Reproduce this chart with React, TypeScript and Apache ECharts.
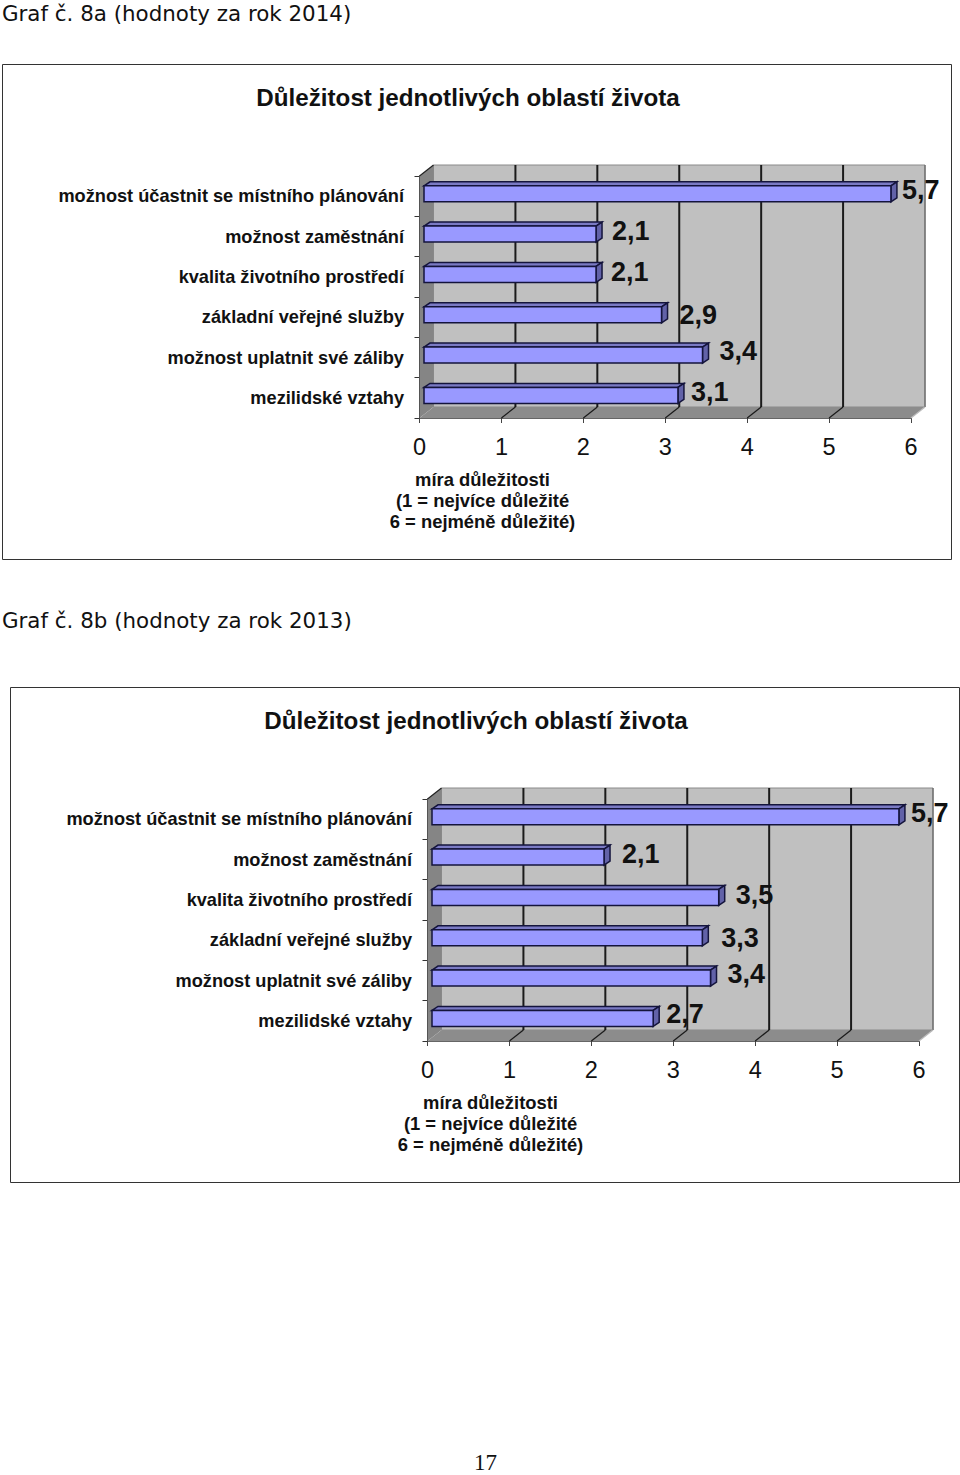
import React, { useEffect, useRef } from "react";
import * as echarts from "echarts";

const categories = [
  "možnost účastnit se místního plánování",
  "možnost zaměstnání",
  "kvalita životního prostředí",
  "základní veřejné služby",
  "možnost uplatnit své záliby",
  "mezilidské vztahy",
];
const values2014 = [5.7, 2.1, 2.1, 2.9, 3.4, 3.1];
const values2013 = [5.7, 2.1, 3.5, 3.3, 3.4, 2.7];
const xTicks = [0, 1, 2, 3, 4, 5, 6];
const pageTitle2014 = "Graf č. 8a (hodnoty za rok 2014)";
const pageTitle2013 = "Graf č. 8b (hodnoty za rok 2013)";
const chartTitle = "Důležitost jednotlivých oblastí života";
const axisCaption = ["míra důležitosti", "(1 = nejvíce důležité", "6 = nejméně důležité)"];
const pageNumber = "17";

// hand-placed label offsets of the original, relative to the bar end
const labelNudge2014 = [[11, -4], [16, -3], [15, -2.5], [18, 0], [17, -4], [13, -3]];
const labelNudge2013 = [[12, -4], [18, -3], [17, -2.5], [19, 0], [17, -4], [13, -4]];

const SANS = '"Liberation Sans", Arial, sans-serif';
const DX = 14, DY = -11; // wall depth
const BAR_OFF_X = 4.5, BAR_OFF_Y = -2.4, BAR_H = 16, BAR_DX = 6, BAR_DY = -4;

const wallRender = (_: any, api: any) => {
  const band = api.size([0, 1])[1];
  const x0 = api.coord([0, 0])[0];
  const x6 = api.coord([6, 0])[0];
  const top = api.coord([0, 0])[1] - band / 2;
  const bottom = top + band * categories.length;
  const children: any[] = [
    { type: "polygon", shape: { points: [[x0 + DX, top + DY], [x6 + DX, top + DY], [x6 + DX, bottom + DY], [x0 + DX, bottom + DY]] }, style: { fill: "#c0c0c0", stroke: "#8a8a8a", lineWidth: 1 } },
    { type: "polygon", shape: { points: [[x0, top], [x0 + DX, top + DY], [x0 + DX, bottom + DY], [x0, bottom]] }, style: { fill: "#858585" } },
    { type: "polygon", shape: { points: [[x0, bottom], [x0 + DX, bottom + DY], [x6 + DX, bottom + DY], [x6, bottom]] }, style: { fill: "#8c8c8c" } },
    { type: "line", shape: { x1: x0, y1: top, x2: x0 + DX, y2: top + DY }, style: { stroke: "#222", lineWidth: 1.2 } },
  ];
  xTicks.forEach((t) => {
    const x = api.coord([t, 0])[0];
    if (t > 0) {
      children.push({ type: "line", shape: { x1: x + DX, y1: top + DY, x2: x + DX, y2: bottom + DY }, style: { stroke: t === 6 ? "#666" : "#1a1a1a", lineWidth: t === 6 ? 1.2 : 2 } });
      children.push({ type: "line", shape: { x1: x, y1: bottom, x2: x + DX, y2: bottom + DY }, style: { stroke: t === 6 ? "#bbb" : "#1a1a1a", lineWidth: 1.2 } });
    }
  });
  return { type: "group", children };
};

const barRender = (nudges: number[][]) => (params: any, api: any) => {
  const v = api.value(0);
  const [xEnd, yc] = api.coord([v, api.value(1)]);
  const x0 = api.coord([0, api.value(1)])[0] + BAR_OFF_X;
  const x1 = xEnd + BAR_OFF_X;
  const y0 = yc + BAR_OFF_Y - BAR_H / 2;
  const y1 = y0 + BAR_H;
  const edge = { stroke: "#14143c", lineWidth: 1.5 };
  const [nx, ny] = nudges[params.dataIndex];
  return {
    type: "group",
    children: [
      { type: "polygon", shape: { points: [[x0, y0], [x0 + BAR_DX, y0 + BAR_DY], [x1 + BAR_DX, y0 + BAR_DY], [x1, y0]] }, style: { fill: "#7a7ac4", ...edge } },
      { type: "polygon", shape: { points: [[x1, y0], [x1 + BAR_DX, y0 + BAR_DY], [x1 + BAR_DX, y1 + BAR_DY], [x1, y1]] }, style: { fill: "#6262a8", ...edge } },
      { type: "rect", shape: { x: x0, y: y0, width: x1 - x0, height: BAR_H }, style: { fill: "#9999ff", ...edge } },
      { type: "text", style: { text: String(v).replace(".", ","), x: x1 + nx, y: yc + BAR_OFF_Y + ny, fill: "#111", font: `bold 27px ${SANS}`, textAlign: "left", textVerticalAlign: "middle" } },
    ],
  };
};

const plotLeft = 419.5, plotTop = 176, plotW = 491.5, plotH = 242;
const titleX = 468, titleY = 97, captionX = 482.5;
const shiftX = 8, shiftY = 623;

const axesFor = (i: number, sx: number, sy: number) => ({
  grid: { left: plotLeft + sx, top: plotTop + sy, width: plotW, height: plotH },
  xAxis: {
    type: "value", gridIndex: i, min: 0, max: 6, interval: 1,
    splitLine: { show: false },
    axisLine: { show: true, lineStyle: { color: "#666", width: 1 } },
    axisTick: { show: true, length: 5, lineStyle: { color: "#444" } },
    axisLabel: { color: "#111", fontFamily: SANS, fontSize: 23.5, margin: 17 },
  },
  yAxis: {
    type: "category", gridIndex: i, inverse: true, data: categories,
    axisLine: { show: true, lineStyle: { color: "#222", width: 1 } },
    axisTick: { show: true, length: 5, alignWithLabel: false, lineStyle: { color: "#333" } },
    axisLabel: { color: "#111", fontFamily: SANS, fontWeight: "bold", fontSize: 18.2, margin: 15.5, interval: 0, padding: [2, 0, 0, 0] },
  },
});

const caption = (sx: number, sy: number) =>
  axisCaption.map((t, i) => ({
    type: "text", x: captionX + sx, y: 479.5 + sy + i * 20.8,
    style: { text: t, fill: "#111", font: `bold 18.4px ${SANS}`, textAlign: "center", textVerticalAlign: "middle" },
  }));

const titleText = (sx: number, sy: number) => ({
  type: "text", x: titleX + sx, y: titleY + sy,
  style: { text: chartTitle, fill: "#111", font: `bold 24.2px ${SANS}`, textAlign: "center", textVerticalAlign: "middle" },
});

const pageText = (t: string, x: number, y: number) => ({
  type: "text", x, y,
  style: { text: t, fill: "#111", font: '21.4px "DejaVu Sans", sans-serif', textAlign: "left", textVerticalAlign: "middle" },
});

export default function App() {
  const ref = useRef<HTMLDivElement>(null);
  useEffect(() => {
    const chart = echarts.init(ref.current!, null, { renderer: "svg" });
    const a = axesFor(0, 0, 0);
    const b = axesFor(1, shiftX, shiftY);
    const wallData = [[0, 0]];
    const seriesFor = (i: number, vals: number[], nudges: number[][]) => [
      { type: "custom", xAxisIndex: i, yAxisIndex: i, silent: true, clip: false, z: 1, renderItem: wallRender, encode: { x: 0, y: 1 }, data: wallData },
      { type: "custom", xAxisIndex: i, yAxisIndex: i, silent: true, clip: false, z: 3, renderItem: barRender(nudges), encode: { x: 0, y: 1 }, data: vals.map((v, k) => [v, k]) },
    ];
    chart.setOption({
      animation: false,
      backgroundColor: "#ffffff",
      grid: [a.grid, b.grid],
      xAxis: [a.xAxis, b.xAxis],
      yAxis: [a.yAxis, b.yAxis],
      series: [...seriesFor(0, values2014, labelNudge2014), ...seriesFor(1, values2013, labelNudge2013)],
      graphic: [
        { type: "rect", z: -1, shape: { x: 2.5, y: 64.5, width: 949, height: 495 }, style: { fill: "none", stroke: "#333", lineWidth: 1 } },
        { type: "rect", z: -1, shape: { x: 10.5, y: 687.5, width: 949, height: 495 }, style: { fill: "none", stroke: "#333", lineWidth: 1 } },
        pageText(pageTitle2014, 2, 13),
        pageText(pageTitle2013, 2, 620),
        titleText(0, 0),
        titleText(shiftX, shiftY),
        ...caption(0, 0),
        ...caption(shiftX, shiftY),
        { type: "text", x: 474, y: 1462, style: { text: pageNumber, fill: "#111", font: '23px "Liberation Serif", serif', textAlign: "left", textVerticalAlign: "middle" } },
      ],
    });
    return () => chart.dispose();
  }, []);
  return <div ref={ref} style={{ position: "absolute", left: 0, top: 0, width: 960, height: 1475 }} />;
}
